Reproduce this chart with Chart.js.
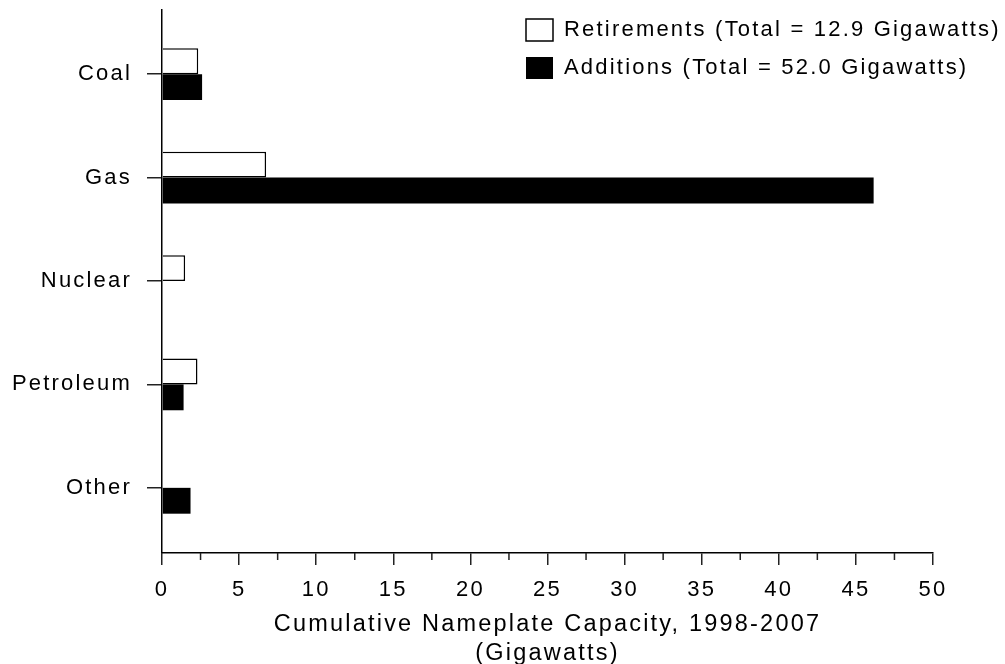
<!DOCTYPE html>
<html><head><meta charset="utf-8">
<script src="https://cdn.jsdelivr.net/npm/chart.js@4"></script>
<style>html,body{margin:0;padding:0;background:#fff}#wrap{width:1005px;height:664px;position:relative}</style>
</head><body><div id="wrap"><canvas id="c"></canvas></div>
<script>
const categories = ['Coal', 'Gas', 'Nuclear', 'Petroleum', 'Other'];
const retirements = [2.35, 6.75, 1.5, 2.3, 0];
const additions = [2.6, 46.15, 0, 1.4, 1.85];
const seriesLabels = ['Retirements (Total = 12.9 Gigawatts)', 'Additions (Total = 52.0 Gigawatts)'];
const xTitle = ['Cumulative Nameplate Capacity, 1998-2007', '(Gigawatts)'];
const xMin = 0, xMax = 50, xStep = 5;

const FONT = "'Liberation Sans', Arial, sans-serif";
const SPACING = '2.2px';

const spacingPlugin = {
  id: 'spacing',
  beforeUpdate(c) { c.ctx.letterSpacing = SPACING; },
  beforeLayout(c) { c.ctx.letterSpacing = SPACING; },
  beforeDraw(c) { c.ctx.letterSpacing = SPACING; }
};
const legendPlace = {
  id: 'legendPlace',
  afterLayout(c) {
    const lg = c.legend; if (!lg) return;
    const w = lg.width, h = lg.height;
    lg.left = 510; lg.top = 3; lg.right = lg.left + w; lg.bottom = lg.top + h;
  }
};
const minorTicks = {
  id: 'minorTicks',
  afterDraw(c) {
    const s = c.scales.x, ctx = c.ctx, t = s.ticks;
    ctx.save();
    ctx.strokeStyle = '#222'; ctx.lineWidth = 1.5;
    for (let i = 0; i < t.length - 1; i++) {
      const px = s.getPixelForValue((t[i].value + t[i + 1].value) / 2);
      ctx.beginPath(); ctx.moveTo(px, s.top); ctx.lineTo(px, s.top + 7); ctx.stroke();
    }
    ctx.restore();
  }
};

const toPoints = arr => arr.map((v, i) => ({ x: v, y: i }));

new Chart(document.getElementById('c'), {
  type: 'bar',
  data: {
    datasets: [
      { label: seriesLabels[0], data: toPoints(retirements), backgroundColor: '#fff', borderColor: '#000', borderWidth: 1.5 },
      { label: seriesLabels[1], data: toPoints(additions), backgroundColor: '#000', borderColor: '#000', borderWidth: 0 }
    ]
  },
  options: {
    indexAxis: 'y',
    responsive: true,
    maintainAspectRatio: false,
    animation: false,
    events: [],
    layout: { padding: { top: 10, right: 72, bottom: 0, left: 0 } },
    datasets: { bar: { categoryPercentage: 0.5, barPercentage: 1.0 } },
    plugins: {
      tooltip: { enabled: false },
      legend: {
        position: 'chartArea',
        align: 'start',
        labels: {
          color: '#000',
          font: { family: FONT, size: 22 },
          boxWidth: 27, boxHeight: 22, padding: 16
        }
      }
    },
    scales: {
      x: {
        type: 'linear', position: 'bottom', min: xMin, max: xMax,
        ticks: { stepSize: xStep, color: '#000', font: { family: FONT, size: 22 }, padding: 12, maxRotation: 0 },
        grid: { drawOnChartArea: false, drawTicks: true, tickLength: 12, color: '#222', lineWidth: 1.5 },
        border: { display: true, color: '#000', width: 1.5 },
        title: { display: true, text: xTitle, color: '#000', font: { family: FONT, size: 23.5, lineHeight: 1.24 }, padding: { top: 0, bottom: -4 } },
        afterFit(s) { s.height = 111; s.paddingLeft = 0; s.paddingRight = 0; }
      },
      y: {
        type: 'linear', reverse: true, min: -0.62, max: 4.63, offset: false,
        ticks: { stepSize: 1, includeBounds: false, color: '#000', font: { family: FONT, size: 22 }, padding: 15,
          callback: v => categories[v] ?? '' },
        grid: { offset: false, drawOnChartArea: false, drawTicks: true, tickLength: 15, color: '#222', lineWidth: 1.5 },
        border: { display: true, color: '#000', width: 1.5 },
        afterFit(s) { s.width = 162; s.paddingTop = 0; s.paddingBottom = 0; }
      }
    }
  },
  plugins: [spacingPlugin, legendPlace, minorTicks]
});
</script>
</body></html>
